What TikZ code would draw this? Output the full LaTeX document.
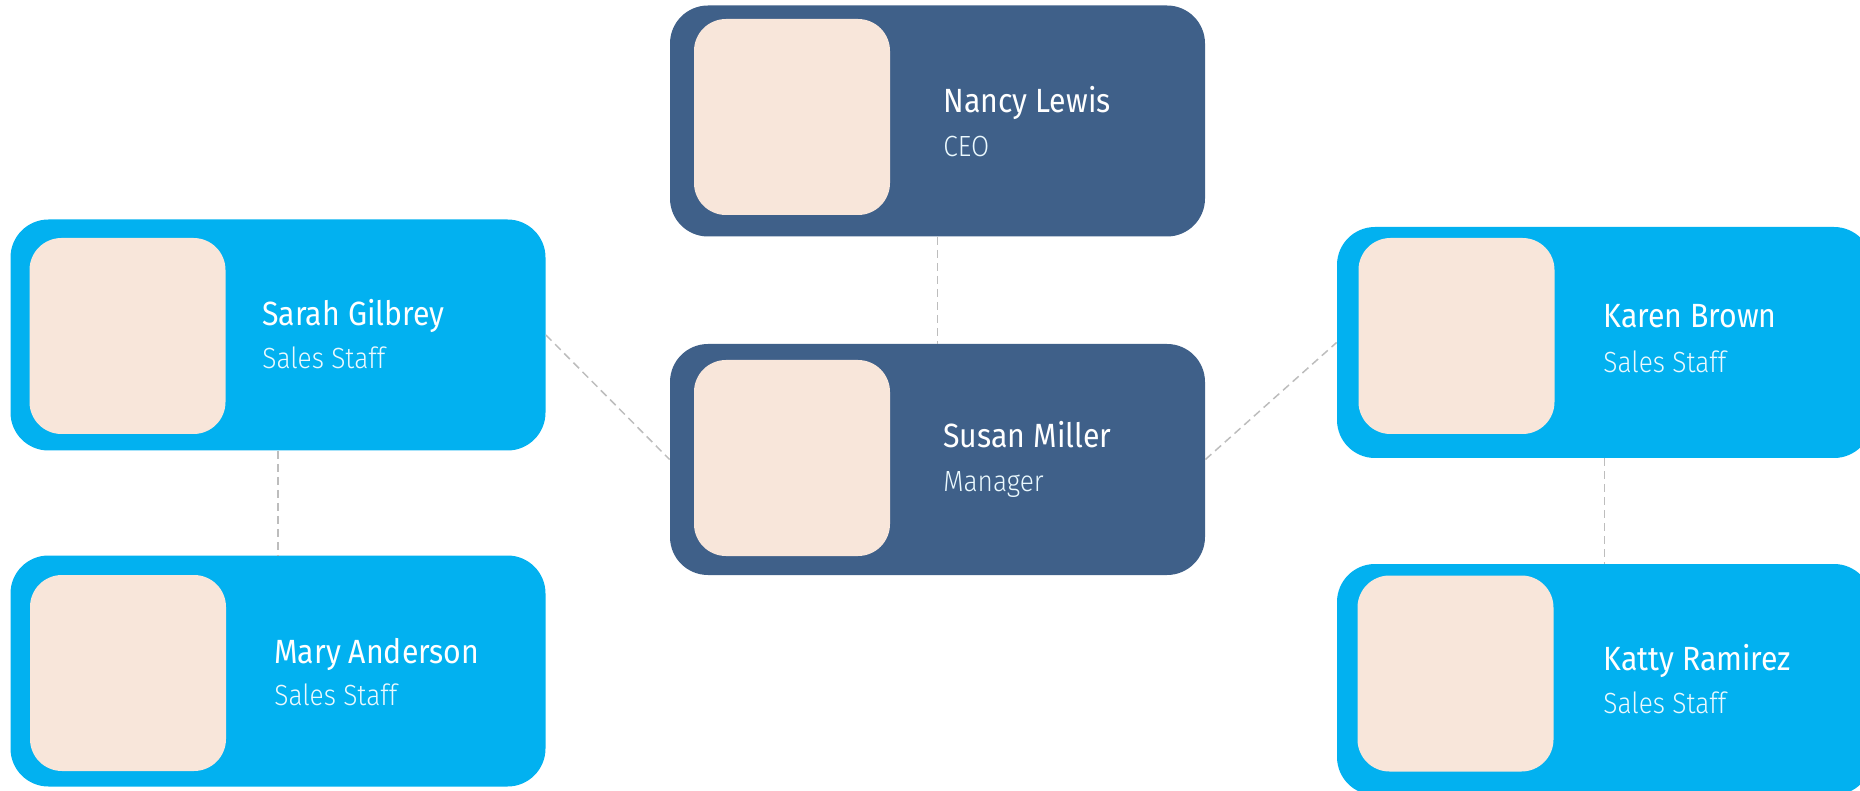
\documentclass[tikz,border=0pt]{standalone}
\usepackage{fontspec}
\setmainfont{Fira Sans}
\newfontfamily\namefont{Fira Sans}[FakeStretch=0.9]
\newfontfamily\subfont{Fira Sans Light}[FakeStretch=0.9]
\definecolor{darkbox}{HTML}{3F6089}
\definecolor{lightbox}{HTML}{02B1F0}
\definecolor{photo}{HTML}{F8E6DA}
\definecolor{linkgray}{HTML}{BDBDBD}
\tikzset{
  card/.style={rectangle, rounded corners=19pt, inner sep=0pt, draw=none,
    minimum width=267.5pt, minimum height=115.5pt},
  darkcard/.style={card, fill=darkbox},
  lightcard/.style={card, fill=lightbox},
  photobox/.style={rectangle, rounded corners=16pt, inner sep=0pt, draw=none,
    fill=photo, minimum width=98pt, minimum height=98pt},
  nametext/.style={anchor=base west, inner sep=0pt, text=white,
    font=\namefont\fontsize{16.8}{20}\selectfont},
  roletext/.style={anchor=base west, inner sep=0pt, text=white!92!lightbox,
    font=\subfont\fontsize{14.6}{18}\selectfont},
  link/.style={draw=linkgray, line width=0.75pt, dash pattern=on 4pt off 2.5pt}
}
\begin{document}
\begin{tikzpicture}[x=0.5pt, y=-0.5pt]
\useasboundingbox (0,0) rectangle (1860,791);
% cards
\node[darkcard]  (nancy) at (937.5,121)   {};
\node[darkcard]  (susan) at (937.5,459.5) {};
\node[lightcard] (sarah) at (278,335)     {};
\node[lightcard] (mary)  at (278,671)     {};
\node[lightcard] (karen) at (1604.5,342.5){};
\node[lightcard] (katty) at (1604.5,679.5){};
% photos
\node[photobox] (nancyp) at (792,117)    {};
\node[photobox] (susanp) at (792,458)    {};
\node[photobox] (sarahp) at (127.5,336)  {};
\node[photobox] (maryp)  at (128,673)    {};
\node[photobox] (karenp) at (1456.5,336) {};
\node[photobox] (kattyp) at (1455.5,673.5){};
% texts
\node[nametext] (nancyn) at (943,113) {Nancy Lewis};
\node[roletext] (nancyr) at (943,157) {CEO};
\node[nametext] (susann) at (943,448) {Susan Miller};
\node[roletext] (susanr) at (943,492) {Manager};
\node[nametext] (sarahn) at (262,326) {Sarah Gilbrey};
\node[roletext] (sarahr) at (262,369) {Sales Staff};
\node[nametext] (maryn)  at (274,663) {Mary Anderson};
\node[roletext] (maryr)  at (274,705) {Sales Staff};
\node[nametext] (karenn) at (1603,328) {Karen Brown};
\node[roletext] (karenr) at (1603,372) {Sales Staff};
\node[nametext] (kattyn) at (1603,670) {Katty Ramirez};
\node[roletext] (kattyr) at (1603,713) {Sales Staff};
% connectors
\draw[link] (nancy.south) -- (susan.north);
\draw[link] (sarah.east) -- (susan.west);
\draw[link] (susan.east) -- (karen.west);
\draw[link] (sarah.south) -- (mary.north);
\draw[link] (karen.south) -- (katty.north);
\end{tikzpicture}
\end{document}
